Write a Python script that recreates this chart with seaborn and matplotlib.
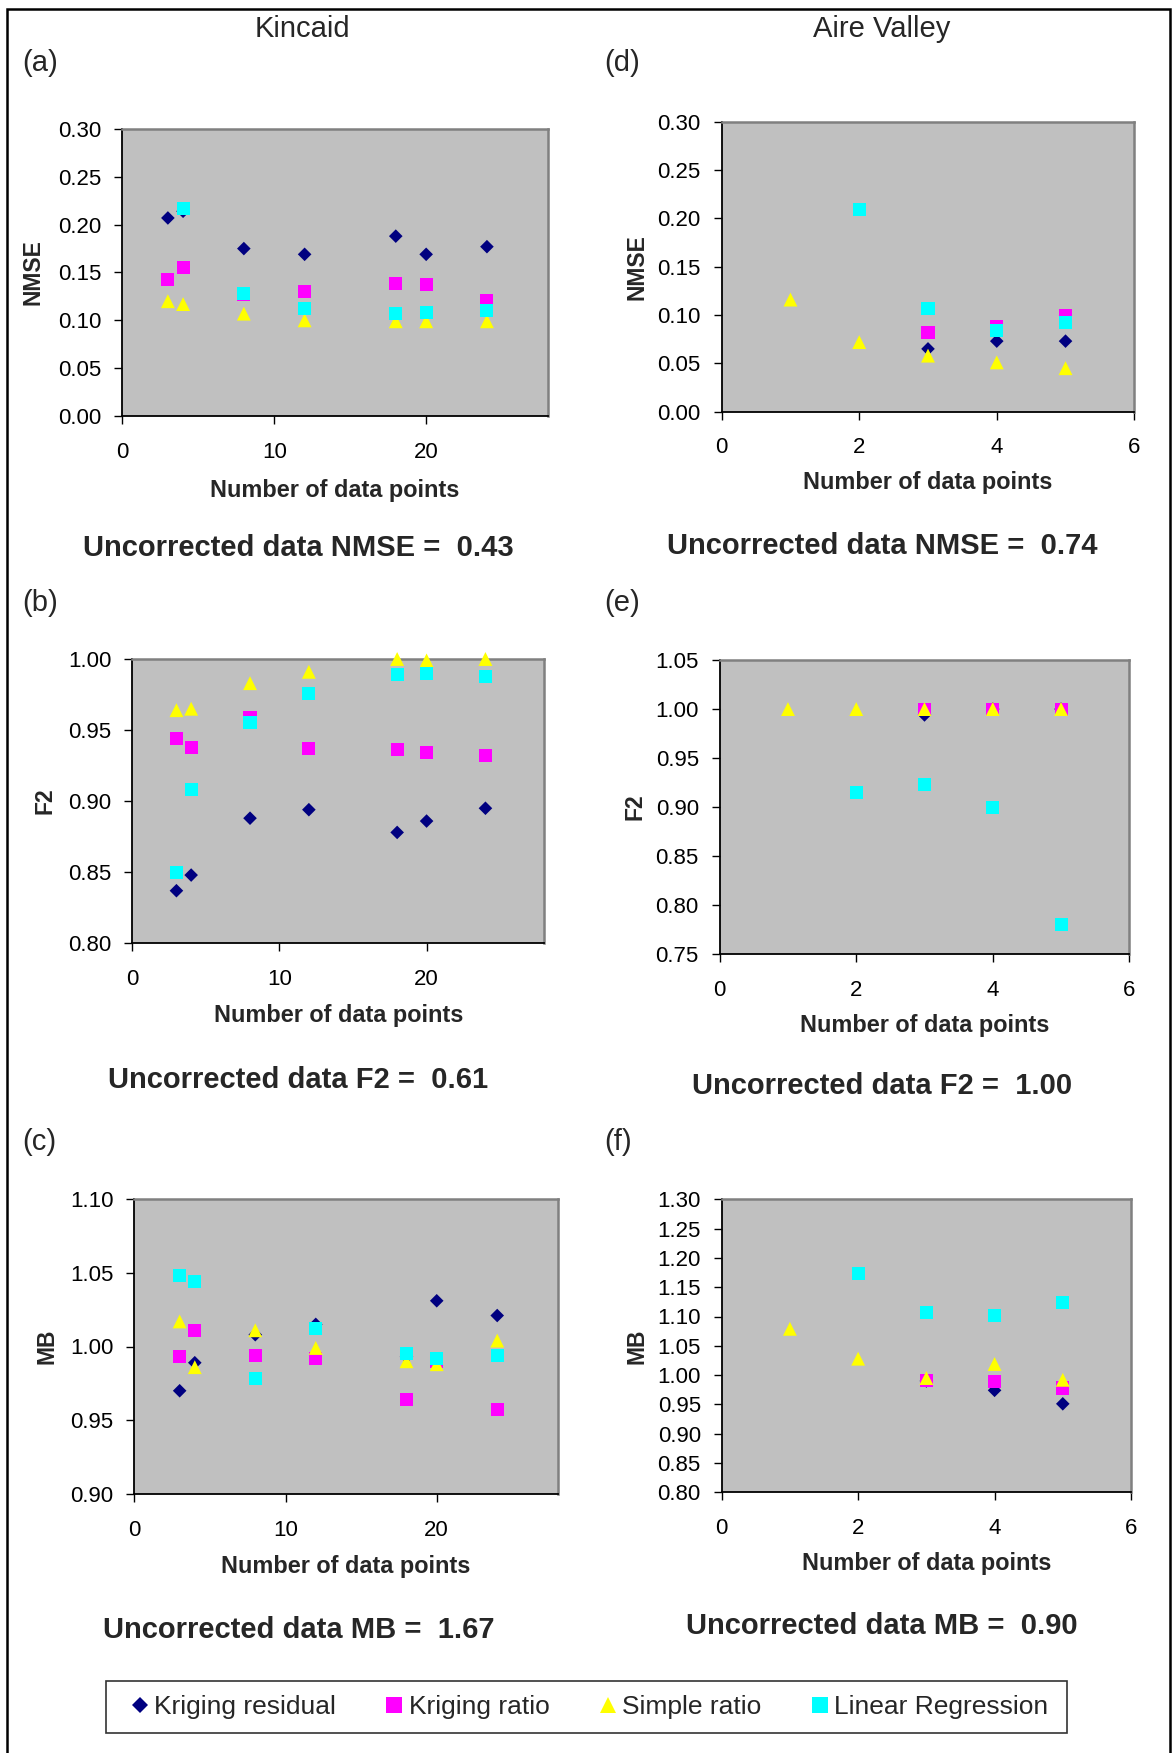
import numpy as np
import pandas as pd
import matplotlib
matplotlib.use("Agg")
import matplotlib.pyplot as plt
from matplotlib.lines import Line2D
from matplotlib.patches import Rectangle
import seaborn as sns

nan = np.nan

# ---------------- data ----------------
methods = ["Kriging residual", "Kriging ratio", "Simple ratio", "Linear Regression"]

kin_n = [3, 4, 8, 12, 18, 20, 24]
kin_nmse_kres = [0.207, 0.214, 0.175, 0.169, 0.188, 0.169, 0.177]
kin_nmse_krat = [0.143, 0.155, 0.127, 0.130, 0.139, 0.137, 0.121]
kin_nmse_simp = [0.120, 0.117, 0.107, 0.100, 0.099, 0.099, 0.099]
kin_nmse_lr = [nan, 0.217, 0.128, 0.112, 0.107, 0.108, 0.110]

kin_f2_kres = [0.837, 0.848, 0.888, 0.894, 0.878, 0.886, 0.895]
kin_f2_krat = [0.944, 0.938, 0.959, 0.937, 0.936, 0.934, 0.932]
kin_f2_simp = [0.964, 0.965, 0.983, 0.991, 1.000, 0.999, 1.000]
kin_f2_lr = [0.850, 0.908, 0.955, 0.976, 0.989, 0.990, 0.988]

kin_mb_kres = [0.970, 0.989, 1.008, 1.015, 0.993, 1.031, 1.021]
kin_mb_krat = [0.993, 1.011, 0.994, 0.992, 0.964, 0.990, 0.957]
kin_mb_simp = [1.017, 0.986, 1.011, 0.999, 0.990, 0.988, 1.004]
kin_mb_lr = [1.048, 1.044, 0.978, 1.012, 0.995, 0.992, 0.994]

aire_n = [1, 2, 3, 4, 5]
aire_nmse_kres = [nan, nan, 0.065, 0.073, 0.073]
aire_nmse_krat = [nan, nan, 0.082, 0.088, 0.100]
aire_nmse_simp = [0.116, 0.072, 0.058, 0.051, 0.045]
aire_nmse_lr = [nan, 0.209, 0.107, 0.084, 0.092]

aire_f2_kres = [nan, nan, 0.994, 1.000, 1.000]
aire_f2_krat = [nan, nan, 1.000, 1.000, 1.000]
aire_f2_simp = [1.000, 1.000, 1.000, 1.000, 1.000]
aire_f2_lr = [nan, 0.915, 0.923, 0.900, 0.780]

aire_mb_kres = [nan, nan, 0.990, 0.974, 0.951]
aire_mb_krat = [nan, nan, 0.991, 0.989, 0.978]
aire_mb_simp = [1.079, 1.028, 0.995, 1.019, 0.992]
aire_mb_lr = [nan, 1.173, 1.107, 1.102, 1.124]

uncorrected_labels = ["NMSE", "F2", "MB"]
kin_uncorrected = ["0.43", "0.61", "1.67"]
aire_uncorrected = ["0.74", "1.00", "0.90"]

# ---------------- style ----------------
sns.set_style("ticks")
plt.rcParams["font.family"] = ["Liberation Sans", "DejaVu Sans"]

palette = {"Kriging residual": "#000080", "Kriging ratio": "#FF00FF",
           "Simple ratio": "#FFFF00", "Linear Regression": "#00FFFF"}
markers = {"Kriging residual": "D", "Kriging ratio": "s",
           "Simple ratio": "^", "Linear Regression": "s"}
sizes = {"Kriging residual": 48, "Kriging ratio": 88,
         "Simple ratio": 100, "Linear Regression": 88}

W, H = 1174, 1753
fig = plt.figure(figsize=(W / 100, H / 100), dpi=100)


def px_axes(l, t, r, b):
    return fig.add_axes([l / W, 1 - b / H, (r - l) / W, (b - t) / H])


def make_df(n, series):
    rows = []
    for m, vals in zip(methods, series):
        for x, v in zip(n, vals):
            if not np.isnan(v):
                rows.append({"n": x, "value": v, "method": m})
    return pd.DataFrame(rows)


panels = [
    ((122.3, 129, 547.7, 416), kin_n,
     [kin_nmse_kres, kin_nmse_krat, kin_nmse_simp, kin_nmse_lr],
     (0, 0.30), np.arange(0, 0.301, 0.05), (0, 28), [0, 10, 20], "NMSE", -0.209, -0.282),
    ((132.3, 659, 544.3, 943.3), kin_n,
     [kin_f2_kres, kin_f2_krat, kin_f2_simp, kin_f2_lr],
     (0.80, 1.00), np.arange(0.80, 1.001, 0.05), (0, 28), [0, 10, 20], "F2", -0.213, -0.277),
    ((134.3, 1199, 557.7, 1494), kin_n,
     [kin_mb_kres, kin_mb_krat, kin_mb_simp, kin_mb_lr],
     (0.90, 1.10), np.arange(0.90, 1.101, 0.05), (0, 28), [0, 10, 20], "MB", -0.206, -0.268),
    ((721.7, 121.7, 1134.3, 411.7), aire_n,
     [aire_nmse_kres, aire_nmse_krat, aire_nmse_simp, aire_nmse_lr],
     (0, 0.30), np.arange(0, 0.301, 0.05), (0, 6), [0, 2, 4, 6], "NMSE", -0.205, -0.267),
    ((719.7, 660, 1129.3, 954.3), aire_n,
     [aire_f2_kres, aire_f2_krat, aire_f2_simp, aire_f2_lr],
     (0.75, 1.05), np.arange(0.75, 1.051, 0.05), (0, 6), [0, 2, 4, 6], "F2", -0.207, -0.264),
    ((721.7, 1199.3, 1131, 1492.3), aire_n,
     [aire_mb_kres, aire_mb_krat, aire_mb_simp, aire_mb_lr],
     (0.80, 1.30), np.arange(0.80, 1.301, 0.05), (0, 6), [0, 2, 4, 6], "MB", -0.207, -0.265),
]

for box, n, series, ylim, yticks, xlim, xticks, ylab, ylx, xly in panels:
    ax = px_axes(*box)
    df = make_df(n, series)
    sns.scatterplot(data=df, x="n", y="value", hue="method", style="method",
                    size="method", palette=palette, markers=markers, sizes=sizes,
                    hue_order=methods, style_order=methods, size_order=methods,
                    linewidth=0, legend=False, ax=ax, zorder=3, clip_on=False)
    ax.set_facecolor("#C0C0C0")
    ax.set_xlim(*xlim)
    ax.set_ylim(*ylim)
    ax.set_xticks(xticks)
    ax.set_yticks(yticks)
    ax.set_yticklabels([f"{v:.2f}" for v in yticks])
    ax.tick_params(axis="both", direction="out", length=5.5, width=1,
                   color="black", labelsize=16, labelcolor="black")
    ax.tick_params(axis="x", pad=13)
    ax.tick_params(axis="y", pad=9.5)
    for s in ["left", "bottom"]:
        ax.spines[s].set_color("black")
        ax.spines[s].set_linewidth(1.3)
    for s in ["top", "right"]:
        ax.spines[s].set_visible(True)
        ax.spines[s].set_color("#808080")
        ax.spines[s].set_linewidth(1.8)
    ax.set_ylabel(ylab, fontsize=16.5, fontweight="bold", va="center")
    ax.yaxis.set_label_coords(ylx, 0.5)
    ax.set_xlabel("Number of data points", fontsize=16.9, fontweight="bold", va="baseline")
    ax.xaxis.set_label_coords(0.5, xly)

# column titles and panel letters
fig.text(302 / W, 1 - 36.7 / H, "Kincaid", fontsize=21, ha="center", va="baseline")
fig.text(882 / W, 1 - 36.7 / H, "Aire Valley", fontsize=21, ha="center", va="baseline")
for lab, x, y in [("(a)", 22, 63), ("(b)", 22, 603), ("(c)", 22, 1142),
                  ("(d)", 604, 63), ("(e)", 604, 603), ("(f)", 604, 1142)]:
    fig.text(x / W, 1 - y / H, lab, fontsize=21, ha="left", va="center")

# uncorrected values
kin_y = [555.6, 1088, 1638]
aire_y = [554.5, 1094.5, 1634]
for lab, v, y in zip(uncorrected_labels, kin_uncorrected, kin_y):
    fig.text(298.5 / W, 1 - y / H, f"Uncorrected data {lab} =  {v}", fontsize=21,
             fontweight="bold", ha="center", va="baseline")
for lab, v, y in zip(uncorrected_labels, aire_uncorrected, aire_y):
    fig.text(882 / W, 1 - y / H, f"Uncorrected data {lab} =  {v}", fontsize=21,
             fontweight="bold", ha="center", va="baseline")

# legend (frame drawn separately)
leg_ms = {"Kriging residual": 8.0, "Kriging ratio": 11.0,
          "Simple ratio": 11.0, "Linear Regression": 11.0}
handles = [Line2D([], [], linestyle="none", marker=markers[m], color=palette[m],
                  markersize=leg_ms[m], markeredgewidth=0) for m in methods]
fig.add_artist(Rectangle((106 / W, 1 - 1733 / H), (1067 - 106) / W, 52 / H,
                         transform=fig.transFigure, fill=False, lw=1.2, ec="#333333"))
fig.legend(handles, methods, loc="center left", bbox_to_anchor=(129.2 / W, 1 - 1707 / H),
           ncol=4, fontsize=19, frameon=False, borderpad=0,
           handlelength=0.8, handletextpad=0.14, columnspacing=1.82,
           borderaxespad=0)

# outer border
fig.add_artist(Rectangle((7 / W, -0.01), (1169.5 - 7) / W, 1 - 9 / H + 0.01,
                         transform=fig.transFigure, fill=False, lw=1.8, ec="black"))

fig.savefig("out.png", dpi=100)
